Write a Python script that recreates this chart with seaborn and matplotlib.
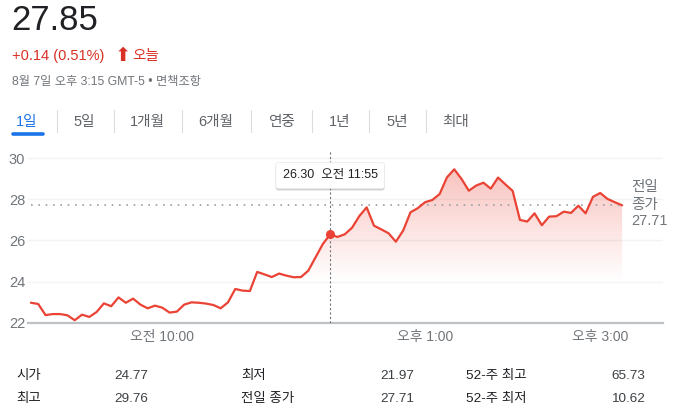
import numpy as np
import pandas as pd
import seaborn as sns
import matplotlib.pyplot as plt
import matplotlib.dates as mdates
import matplotlib.patheffects as pe
from matplotlib.lines import Line2D

# intraday prices, 5 minute steps from 08:30 to 15:15
prices = [22.97, 22.91, 22.37, 22.42, 22.42, 22.36, 22.12, 22.39, 22.28, 22.52,
          22.94, 22.80, 23.23, 22.97, 23.17, 22.88, 22.70, 22.83, 22.73, 22.49,
          22.54, 22.88, 22.99, 22.97, 22.93, 22.86, 22.70, 22.99, 23.64, 23.56,
          23.54, 24.47, 24.35, 24.22, 24.39, 24.29, 24.21, 24.22, 24.53, 25.18,
          25.83, 26.30, 26.17, 26.30, 26.62, 27.19, 27.61, 26.72, 26.54, 26.35,
          25.94, 26.48, 27.37, 27.57, 27.86, 27.97, 28.26, 29.07, 29.46, 28.99,
          28.42, 28.67, 28.81, 28.52, 29.06, 28.73, 28.41, 27.00, 26.92, 27.32,
          26.74, 27.16, 27.18, 27.40, 27.34, 27.69, 27.32, 28.12, 28.31, 28.02,
          27.86, 27.71]
times = pd.date_range("2024-08-07 08:30", periods=len(prices), freq="5min")
df = pd.DataFrame({"time": times, "price": prices})

prev_close = 27.71
hover_time = pd.Timestamp("2024-08-07 11:55")
hover_price = 26.30

y_ticks = [22, 24, 26, 28, 30]
x_ticks = [pd.Timestamp("2024-08-07 10:00"), pd.Timestamp("2024-08-07 13:00"),
           pd.Timestamp("2024-08-07 15:00")]
x_labels = ["오전 10:00", "오후 1:00", "오후 3:00"]

tabs = ["1일", "5일", "1개월", "6개월", "연중", "1년", "5년", "최대"]
tab_x = [27, 84.5, 147.5, 216, 281.5, 340, 397.5, 456]
sep_x = [57, 114, 182, 251, 312, 369, 426]

stats = [["시가", "24.77", "최저", "21.97", "52-주 최고", "65.73"],
         ["최고", "29.76", "전일 종가", "27.71", "52-주 최저", "10.62"]]
stat_cols = [16, 114, 241, 380, 466, 611]
stat_rows = [376, 399]

RED = "#ea4335"
GRAY = "#70757a"
DARK = "#202124"

sns.set_theme(style="white")
plt.rcParams["font.family"] = ["Liberation Sans", "Noto Sans CJK KR", "DejaVu Sans"]

W, H = 691, 418
fig = plt.figure(figsize=(W / 100, H / 100), dpi=100)

def fx(px):
    return px / W

def fy(py):
    return 1 - py / H

ax = fig.add_axes([fx(28), fy(322.7), fx(663) - fx(28), (322.7 - 150) / H])

# gradient under the line, clipped to the area below the prices
x0 = times[0]
x1 = times[-1]
fill = ax.fill_between(df["time"], df["price"], 22, facecolor="none", edgecolor="none")
yy = np.linspace(22, 30.4, 200)
alpha = np.clip((yy - 24.0) / (29.5 - 24.0), 0, 1) * 0.32
rgba = np.zeros((len(yy), 2, 4))
rgba[..., 0], rgba[..., 1], rgba[..., 2] = 0.918, 0.263, 0.208
rgba[..., 3] = alpha[:, None]
img = ax.imshow(rgba, origin="lower", aspect="auto",
                extent=[mdates.date2num(x0), mdates.date2num(x1), 22, 30.4], zorder=1)
img.set_clip_path(fill.get_paths()[0], transform=ax.transData)

for yv in y_ticks[1:]:
    ax.axhline(yv, color="#f1f3f4", lw=1, zorder=0)

ax.plot([x0, x1], [prev_close, prev_close], color="#9aa0a6", lw=1.2,
        linestyle=(0, (1, 3.4)), zorder=2)

sns.lineplot(data=df, x="time", y="price", color=RED, lw=1.6, ax=ax, zorder=3)

ax.axvline(hover_time, color=GRAY, lw=0.8, linestyle=(0, (2, 2)), zorder=4)
ax.plot([hover_time], [hover_price], "o", color=RED, ms=5.5, zorder=5)

t = ax.text(hover_time, 29.16, f"{hover_price:.2f}  오전 11:55", ha="center", va="center",
            fontsize=9, color=DARK, zorder=6,
            bbox=dict(boxstyle="round,pad=0.55,rounding_size=0.2", fc="white", ec="#e8eaed", lw=0.6))
t.get_bbox_patch().set_path_effects([pe.SimplePatchShadow(offset=(0, -1.5), shadow_rgbFace="black", alpha=0.18),
                                     pe.Normal()])

ax.set_xlim(pd.Timestamp("2024-08-07 08:28"), pd.Timestamp("2024-08-07 15:43"))
ax.set_ylim(22, 30.4)
ax.set_yticks(y_ticks)
ax.set_yticklabels([str(v) for v in y_ticks])
ax.set_xticks(x_ticks)
ax.set_xticklabels(x_labels)
ax.tick_params(axis="y", length=0, pad=2, labelsize=10.5, labelcolor=GRAY)
ax.tick_params(axis="x", length=5, width=1, color="#9aa0a6", direction="out", pad=0,
               labelsize=10, labelcolor=GRAY)
ax.set_xlabel("")
ax.set_ylabel("")
for s in ["top", "right", "left"]:
    ax.spines[s].set_visible(False)
ax.spines["bottom"].set_color("#bdc1c6")
ax.spines["bottom"].set_linewidth(1.6)

# previous close label on the right
for txt, py in zip(["전일", "종가", f"{prev_close:.2f}"], [187, 205, 221]):
    fig.text(fx(631), fy(py), txt, fontsize=10.5, color=GRAY, va="center", ha="left")

# header
fig.text(fx(11), fy(30), "27.85", fontsize=25, color=DARK, va="baseline")
fig.text(fx(12), fy(60), "+0.14 (0.51%)", fontsize=10.5, color="#d93025", va="baseline")
fig.text(fx(115), fy(61), "⬆", fontsize=14, color="#d93025", va="baseline",
         family=["DejaVu Sans"])
fig.text(fx(132), fy(60), "오늘", fontsize=10.5, color="#d93025", va="baseline")
fig.text(fx(12), fy(85), "8월 7일 오후 3:15 GMT-5 • 면책조항", fontsize=8.8, color=GRAY, va="baseline")

# range tabs
for i, (lab, px) in enumerate(zip(tabs, tab_x)):
    fig.text(fx(px), fy(126), lab, fontsize=10.5, ha="center", va="baseline",
             color="#1a73e8" if i == 0 else "#5f6368")
for px in sep_x:
    fig.add_artist(Line2D([fx(px), fx(px)], [fy(110), fy(132)], color="#dadce0", lw=0.8))
fig.add_artist(Line2D([fx(13), fx(43)], [fy(134), fy(134)], color="#1a73e8", lw=2.6,
                      solid_capstyle="round"))

# stats table
for row, py in zip(stats, stat_rows):
    for j, (txt, px) in enumerate(zip(row, stat_cols)):
        fig.text(fx(px), fy(py), txt, fontsize=9.7, va="center", ha="left",
                 color=DARK if j % 2 == 0 else "#3c4043")

fig.savefig("out.png", dpi=100)
